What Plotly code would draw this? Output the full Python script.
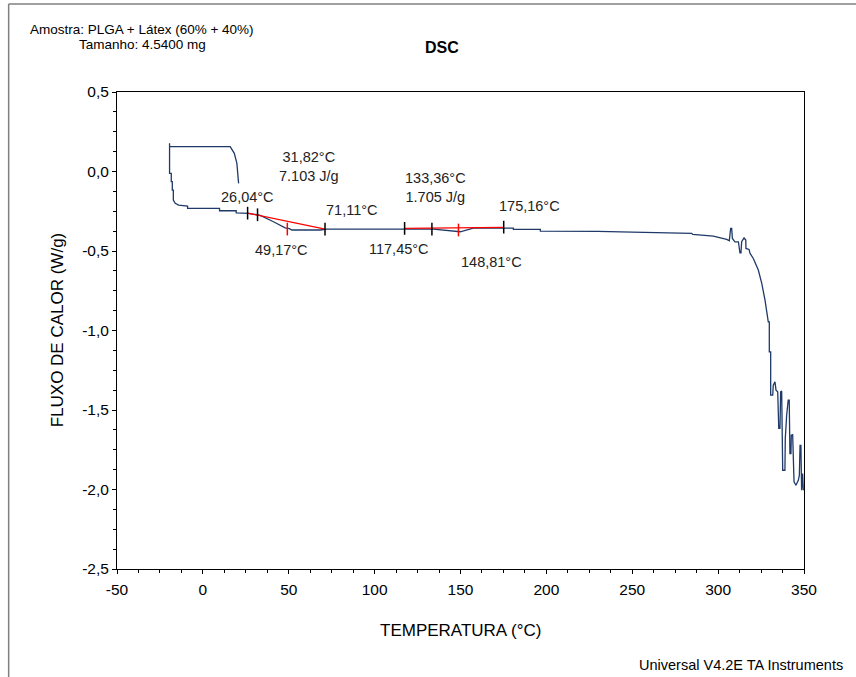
import plotly.graph_objects as go

# ---------------- data ----------------
curve_T = [20.8, 19.8, 18.3, 15.9, -19.4, -19.4, -19.4, -18.4, -18.4, -17.8, -17.8, -17.2, -17.2,
           -16.1, -14.1, -8.9, -8.9, 9.7, 9.7, 19.4, 19.4, 26.6, 33.4, 41.1, 47.9, 50.4, 51.8,
           68.3, 72.2, 134.3, 149.8, 157.5, 180.8, 180.8, 196.5, 196.5, 208.1, 230.0, 250.0,
           265.0, 277.8, 284.6, 285.2, 297.2, 305.0, 306.5, 307.3, 307.9, 308.3, 309.8, 311.8,
           312.7, 313.3, 313.7, 315.1, 316.1, 316.2, 318.0, 318.6, 320.5, 323.4, 325.4, 327.3,
           328.6, 329.2, 329.8, 329.8, 330.6, 330.6, 331.8, 332.1, 333.1, 333.7, 334.7, 335.3,
           336.0, 336.4, 337.0, 337.6, 338.9, 339.1, 339.9, 340.8, 341.4, 341.8, 342.4, 342.6,
           343.4, 343.8, 344.2, 345.3, 346.7, 347.3, 347.7, 348.2, 348.6, 349.2, 349.6]
curve_hf = [-0.075, 0.051, 0.114, 0.156, 0.156, 0.177, -0.012, -0.012, -0.064, -0.064, -0.117, -0.117, -0.180,
            -0.200, -0.211, -0.217, -0.232, -0.232, -0.247, -0.247, -0.260, -0.263, -0.276, -0.316, -0.354, -0.360, -0.368,
            -0.368, -0.362, -0.362, -0.379, -0.356, -0.356, -0.364, -0.364, -0.375, -0.375, -0.377, -0.381,
            -0.385, -0.389, -0.389, -0.396, -0.406, -0.427, -0.436, -0.358, -0.358, -0.421, -0.442, -0.442,
            -0.511, -0.511, -0.442, -0.417, -0.431, -0.484, -0.490, -0.515, -0.547, -0.620, -0.704, -0.809,
            -0.914, -0.946, -0.946, -1.134, -1.134, -1.407, -1.407, -1.344, -1.323, -1.375, -1.386, -1.616,
            -1.616, -1.386, -1.380, -1.879, -1.879, -1.680, -1.533, -1.438, -1.438, -1.774, -1.774, -1.659,
            -1.655, -1.837, -1.952, -1.973, -1.942, -1.910, -1.722, -1.722, -2.005, -1.900, -2.005]

# analysis events (temperature, heat flow on curve, colour)
event_T = [26.04, 31.82, 49.17, 71.11, 117.45, 133.36, 148.81, 175.16]
event_hf = [-0.262, -0.272, -0.362, -0.362, -0.358, -0.362, -0.368, -0.350]
event_color = ["black", "black", "red", "black", "black", "black", "red", "black"]
marker_half = 0.04

# red baselines
base1_T = [26.04, 71.11]
base1_hf = [-0.262, -0.362]
base2_T = [117.45, 175.16]
base2_hf = [-0.358, -0.352]

# labels of the analysis
label_text = ["26,04°C", "31,82°C<br>7.103 J/g", "49,17°C", "71,11°C",
              "117,45°C", "133,36°C<br>1.705 J/g", "148,81°C", "175,16°C"]
label_T = [25.7, 61.8, 46.0, 86.5, 113.9, 135.4, 168.2, 190.1]
label_hf = [-0.159, 0.032, -0.491, -0.241, -0.488, -0.102, -0.568, -0.217]

x_ticks = [-50, 0, 50, 100, 150, 200, 250, 300, 350]
x_tick_text = ["-50", "0", "50", "100", "150", "200", "250", "300", "350"]
y_ticks = [0.5, 0.0, -0.5, -1.0, -1.5, -2.0, -2.5]
y_tick_text = ["0,5", "0,0", "-0,5", "-1,0", "-1,5", "-2,0", "-2,5"]

FONT = "Liberation Sans, Arial, sans-serif"
CURVE = "#1f3a68"

fig = go.Figure()
fig.add_trace(go.Scatter(x=curve_T, y=curve_hf, mode="lines",
                         line=dict(color=CURVE, width=1.3), hoverinfo="skip", showlegend=False))
fig.add_trace(go.Scatter(x=base1_T, y=base1_hf, mode="lines",
                         line=dict(color="#ff0000", width=1.2), showlegend=False))
fig.add_trace(go.Scatter(x=base2_T, y=base2_hf, mode="lines",
                         line=dict(color="#ff0000", width=1.2), showlegend=False))
for t, h, c in zip(event_T, event_hf, event_color):
    fig.add_trace(go.Scatter(x=[t, t], y=[h - marker_half, h + marker_half], mode="lines",
                             line=dict(color=c, width=1.5), showlegend=False))

for txt, t, h in zip(label_text, label_T, label_hf):
    fig.add_annotation(x=t, y=h, xref="x", yref="y", text=txt, showarrow=False,
                       xanchor="center", yanchor="middle",
                       font=dict(family=FONT, size=14.5, color="#222"), align="center")

# titles / texts
fig.add_annotation(x=0.4726, y=1.094, xref="paper", yref="paper", text="<b>DSC</b>",
                   xanchor="center", yanchor="middle",
                   showarrow=False, font=dict(family=FONT, size=16, color="black"))
fig.add_annotation(x=0.0368, y=(569 - 29) / 477, xref="paper", yref="paper",
                   xanchor="center", yanchor="middle",
                   text="Amostra: PLGA + Látex (60% + 40%)", showarrow=False,
                   font=dict(family=FONT, size=13.5, color="black"))
fig.add_annotation(x=0.0368, y=(569 - 45) / 477, xref="paper", yref="paper",
                   xanchor="center", yanchor="middle",
                   text="Tamanho: 4.5400 mg", showarrow=False,
                   font=dict(family=FONT, size=13.5, color="black"))
fig.add_annotation(x=1.0597, y=(569 - 665) / 477, xref="paper", yref="paper", xanchor="right",
                   yanchor="middle",
                   text="Universal V4.2E TA Instruments", showarrow=False,
                   font=dict(family=FONT, size=14.5, color="black"))
fig.add_annotation(x=0.5, y=(569 - 630) / 477, xref="paper", yref="paper",
                   xanchor="center", yanchor="middle",
                   text="TEMPERATURA (°C)", showarrow=False,
                   font=dict(family=FONT, size=17, color="black"))
fig.add_annotation(x=-0.0869, y=0.501, xref="paper", yref="paper", textangle=-90,
                   xanchor="center", yanchor="middle",
                   text="FLUXO DE CALOR (W/g)", showarrow=False,
                   font=dict(family=FONT, size=17, color="black"))

# outer frame (left and top)
fig.add_shape(type="line", xref="paper", yref="paper", x0=-0.1577, x1=-0.1577, y0=1.1845, y1=-0.24,
              line=dict(color="#808080", width=1.5))
fig.add_shape(type="line", xref="paper", yref="paper", x0=-0.1577, x1=1.08, y0=1.1845, y1=1.1845,
              line=dict(color="#808080", width=1.5))

axis_common = dict(showgrid=False, zeroline=False, showline=True, linecolor="black", linewidth=1,
                   mirror=True, ticks="outside", ticklen=4, tickcolor="black",
                   tickfont=dict(family=FONT, size=15.5, color="black"))
fig.update_xaxes(range=[-50, 350], tickmode="array", tickvals=x_ticks, ticktext=x_tick_text,
                 minor=dict(dtick=12.5, tick0=-50, ticks="outside", ticklen=3, tickcolor="black"),
                 ticklabelstandoff=2, **axis_common)
fig.update_yaxes(range=[-2.5, 0.5], tickmode="array", tickvals=y_ticks, ticktext=y_tick_text,
                 minor=dict(dtick=0.125, tick0=0, ticks="outside", ticklen=3, tickcolor="black"),
                 **axis_common)

fig.update_layout(width=856, height=677, margin=dict(l=117, r=52, t=92, b=108, autoexpand=False),
                  plot_bgcolor="white", paper_bgcolor="white", showlegend=False,
                  font=dict(family=FONT))
fig.write_html("out.html")
